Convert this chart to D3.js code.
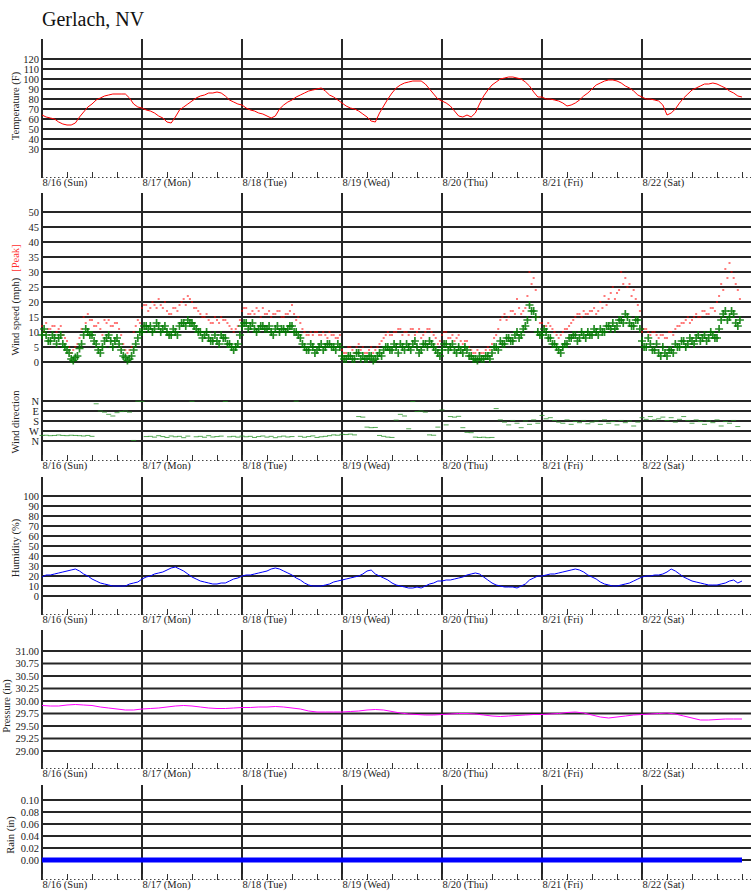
<!DOCTYPE html>
<html>
<head>
<meta charset="utf-8">
<script src="https://cdn.jsdelivr.net/npm/d3@7"></script>
<style>
  body { margin: 0; background: #fff; }
  svg, svg text { font-family: "Liberation Serif", "Times New Roman", "DejaVu Serif", serif; }
</style>
</head>
<body>
<script>
// hourly readings, 8/16 00:00 onward
var tempValues = [
  64,62,61,60,57,55,54,54,56,62,67,72,75,79,81,83,84,85,85,85,85,81,75,72,
  71,69,68,66,63,61,57,56,62,69,72,75,78,81,83,84,86,86,87,86,83,79,77,75,
  74,71,69,68,66,65,63,61,63,70,74,77,79,82,84,86,88,89,90,91,88,84,82,79,
  76,73,71,70,68,65,62,58,57,66,73,80,86,91,94,96,97,98,98,98,95,90,85,80,
  78,76,73,68,63,62,64,62,66,75,83,89,94,97,100,101,102,102,101,100,97,93,87,82,
  82,80,80,79,78,76,73,74,76,79,83,86,90,94,96,98,99,99,98,96,93,91,88,84,
  82,80,80,79,78,74,64,66,70,76,81,85,89,91,93,95,95,96,95,93,91,88,86,83,
  82
];

// wind speed, reading on the hour
var windAvg = [
  9,9,7,8,8,6,4,1,1.5,4.5,9,10,9,6,3,7,9,5,8,4,1.5,1,4,8,
  10,12,12,11,12,11,10,9,10,12,13,14,13,11,10,9,8,7,7,9,8,6,4,6,
  12,13,12,11,11,12,11,10,11,10,11,11,12,10,8,5,4,5,4,6,5,6,5,6,
  2,1,2,1,3,2,1,2,1,3,4,5,4,5,6,4,5,6,5,4,6,7,5,3,
  4,6,5,4,5,3,4,2,1,2,1,2,3,5,7,6,8,7,10,9,12,19,17,10,
  9,10,8,6,4,5,6,8,9,8,9,10,9,10,11,10,12,13,12,14,16,13,12,14,
  7,5,6,4,3,5,2,4,6,5,7,6,7,8,7,9,8,9,8,14,17,15,16,12
];
// wind speed, reading on the half hour
var windAvgB = [
  11,7,9,6,9,5,3,0.5,2,6,11,9,7,4,5,8,7,7,6,2,0.5,2,6,10,
  12,11,10,13,10,12,9,11,9,13,12,13,12,10,8,10,7,9,6,8,6,5,5,9,
  13,11,13,10,12,11,12,9,12,11,10,12,10,9,6,4,6,3,5,4,6,5,4,5,
  1,2,1,3,1,1,2,0.5,2,2,5,4,6,3,5,6,4,7,3,6,5,6,4,2,
  6,4,6,3,4,5,2,1,0.5,1,2,1,5,4,6,8,7,9,8,11,14,17,15,9,
  11,8,6,5,3,6,8,9,7,10,8,9,11,9,10,12,11,11,14,13,15,12,14,11,
  5,8,4,6,2,3,4,3,5,7,5,8,6,9,8,7,10,8,11,16,14,17,13,14
];

var windPeak = [
  12,13,11,12,11,9,7,3,5,8,15,16,14,12,11,14,14,12,13,9,4,4,10,14,
  18,19,18,19,21,18,17,16,18,19,21,22,20,18,16,15,14,13,14,15,14,12,10,12,
  17,18,16,16,17,18,16,15,16,17,15,16,19,14,13,10,9,9,10,9,9,10,9,8,
  4,3,5,3,6,5,3,5,4,6,8,10,9,10,11,10,9,11,10,8,10,11,9,6,
  9,10,8,7,9,6,7,4,3,3,3,5,6,9,14,16,15,17,21,16,18,30,28,15,
  13,12,12,10,8,10,11,13,15,16,17,16,17,16,20,22,21,25,23,30,28,26,24,19,
  10,11,9,10,8,9,8,10,11,12,13,15,14,16,15,17,16,18,20,26,31,33,28,24
];
var windPeakB = [
  10,11,12,10,12,8,5,4,6,11,13,14,12,13,9,13,12,13,11,6,3,5,12,13,
  19,17,20,18,19,20,16,18,17,20,19,21,18,17,15,16,13,15,13,14,13,11,11,14,
  18,16,17,18,15,16,17,16,17,15,16,17,16,15,11,9,10,10,9,10,8,9,8,9,
  3,5,4,5,4,3,4,3,5,7,9,9,10,11,9,10,11,9,11,9,11,10,8,7,
  10,8,9,8,7,7,5,3,4,3,4,4,8,11,15,14,17,16,18,17,22,26,24,13,
  12,13,11,9,9,11,12,14,16,15,16,17,18,17,18,19,23,21,24,26,25,22,21,17,
  11,10,10,9,9,8,10,9,12,13,14,13,15,15,17,16,18,17,22,24,28,30,26,21
];

var windDir = [
  310,308,312,310,306,310,312,308,310,312,315,310,318,25,90,100,120,135,105,95,90,100,355,2,
  5,320,318,325,312,320,328,315,322,318,330,316,3,322,318,326,312,324,320,316,4,322,318,325,
  316,322,318,328,320,315,325,318,330,322,316,324,320,2,318,326,320,314,328,322,318,312,305,308,
  300,302,298,305,140,145,235,240,238,310,318,325,328,172,120,135,250,5,95,90,100,305,308,235,
  80,215,140,145,138,240,282,285,325,328,326,330,328,68,170,190,215,175,200,240,180,210,170,200,
  130,160,150,175,190,200,170,210,185,195,175,205,190,180,210,170,200,185,215,175,195,180,225,190,
  150,165,140,170,160,145,175,150,190,165,140,175,200,170,185,210,180,195,170,225,185,200,175,230
];

var humidityValues = [
  19,21,21,22,23,24,25,26,27,25,22,20,17,15,13,12,11,10,10,10,10,12,13,14,
  17,19,20,22,23,24,26,28,29,27,25,22,19,17,15,14,13,12,12,13,13,15,17,18,
  20,21,21,22,23,24,25,27,28,27,25,23,21,18,16,13,11,10,10,10,11,12,14,15,
  16,17,18,19,20,22,25,26,22,20,18,16,13,11,10,9,8,8,9,8,10,12,13,15,
  15,16,16,17,18,19,21,22,23,22,19,16,13,11,10,9,9,9,8,10,12,16,18,20,
  20,21,22,22,23,24,25,26,27,26,24,21,19,17,14,12,11,10,10,11,12,13,15,17,
  19,20,20,21,21,22,24,27,25,22,19,17,15,14,13,12,11,11,11,12,13,15,16,13,
  15
];

// every 2 hours
var pressureValues = [
  29.91,29.90,29.90,29.92,29.93,29.92,29.91,29.88,29.86,29.84,29.82,29.82,
  29.84,29.85,29.86,29.88,29.90,29.91,29.90,29.88,29.86,29.85,29.85,29.86,
  29.87,29.87,29.88,29.88,29.89,29.88,29.86,29.84,29.80,29.78,29.78,29.78,
  29.78,29.79,29.80,29.82,29.83,29.82,29.79,29.76,29.74,29.73,29.72,29.72,
  29.73,29.74,29.75,29.75,29.74,29.72,29.70,29.69,29.70,29.71,29.72,29.73,
  29.73,29.74,29.75,29.77,29.78,29.76,29.72,29.68,29.66,29.68,29.70,29.72,
  29.73,29.74,29.75,29.76,29.74,29.70,29.66,29.62,29.62,29.63,29.64,29.64,
  29.64
];

// daily
var rainValues = [0,0,0,0,0,0,0,0];

var tempTicks = [30,40,50,60,70,80,90,100,110,120];
var windTicks = [0,5,10,15,20,25,30,35,40,45,50];
var dirTicks = [0,90,180,270,360];
var dirNames = ["N","E","S","W","N"];
var humTicks = [0,10,20,30,40,50,60,70,80,90,100];
var presTicks = [29,29.25,29.5,29.75,30,30.25,30.5,30.75,31];
var rainTicks = [0,0.02,0.04,0.06,0.08,0.1];

var W = 751, H = 895, left = 42;
var serif = "'Liberation Serif', 'Times New Roman', 'DejaVu Serif', serif";
var start = new Date(2015, 7, 16);
var days = d3.range(7).map(function(d){ return d3.timeDay.offset(start, d); });
var at = function(i, step, off){ return d3.timeMinute.offset(start, i*step*60 + (off || 0)); };

var x = d3.scaleTime().domain([start, d3.timeDay.offset(start, 7)]).range([left, left+700]);

var svg = d3.select("body").append("svg").attr("width", W).attr("height", H)
  .attr("font-family", serif);

svg.append("text").attr("x", 42).attr("y", 26).attr("font-size", 20).attr("fill", "#111").text("Gerlach, NV");

function panel(top, axisY, gridSets){
  var g = svg.append("g");
  gridSets.forEach(function(s){
    g.selectAll(null).data(s.ticks).enter().append("line")
      .attr("x1", left).attr("x2", W)
      .attr("y1", function(d){ return s.y(d); }).attr("y2", function(d){ return s.y(d); })
      .attr("stroke", "#262626").attr("stroke-width", 2);
    var ax = g.append("g").attr("transform", "translate(" + left + ",0)")
      .call(d3.axisLeft(s.y).tickValues(s.ticks).tickSize(0).tickPadding(3).tickFormat(s.fmt));
    ax.select(".domain").remove();
    ax.attr("font-family", serif).attr("font-size", 10.5);
    ax.selectAll("text").attr("fill", "#222");
  });
  g.selectAll(null).data(days).enter().append("line")
    .attr("x1", function(d){ return x(d); }).attr("x2", function(d){ return x(d); })
    .attr("y1", top).attr("y2", axisY)
    .attr("stroke", "#262626").attr("stroke-width", 2);
  // dotted time axis with 6-hour ticks
  g.append("line").attr("x1", left).attr("x2", W).attr("y1", axisY - 0.5).attr("y2", axisY - 0.5)
    .attr("stroke", "#444").attr("stroke-dasharray", "1.5,2.5");
  var tx = g.append("g").attr("transform", "translate(0," + axisY + ")")
    .call(d3.axisBottom(x).ticks(d3.timeHour.every(6)).tickSize(-6).tickSizeOuter(0).tickFormat(""));
  tx.select(".domain").remove();
  tx.selectAll("line").attr("stroke", "#333");
  var lx = g.append("g").attr("transform", "translate(0," + axisY + ")")
    .call(d3.axisBottom(x).tickValues(days).tickSize(0).tickPadding(1).tickFormat(d3.timeFormat("%-m/%-d (%a)")));
  lx.select(".domain").remove();
  lx.attr("font-family", serif).attr("font-size", 10.5);
  lx.selectAll("text").attr("text-anchor", "start").attr("fill", "#222");
  return g;
}

function yLabel(cx, cy, parts){
  var t = svg.append("text").attr("transform", "translate(" + cx + "," + cy + ") rotate(-90)")
    .attr("text-anchor", "middle").attr("font-size", 10.5).attr("fill", "#222");
  parts.forEach(function(p, i){
    t.append("tspan").attr("fill", p.c || "#222").attr("dx", i ? 6 : 0).text(p.t);
  });
}

// temperature
var yT = d3.scaleLinear().domain([0, 140]).range([179, 39]);
panel(39, 178, [{y: yT, ticks: tempTicks, fmt: d3.format("d")}]);
yLabel(19, 106, [{t: "Temperature (F)"}]);
svg.append("path").datum(tempValues)
  .attr("fill", "none").attr("stroke", "#ff0000").attr("stroke-width", 1)
  .attr("d", d3.line().x(function(d, i){ return x(at(i, 1)); }).y(function(d){ return yT(d); }));

// wind speed + direction share one frame
var yW = d3.scaleLinear().domain([0, 50]).range([362, 212]);
var yD = d3.scaleLinear().domain([0, 360]).range([401, 441]);
panel(193, 461, [
  {y: yW, ticks: windTicks, fmt: d3.format("d")},
  {y: yD, ticks: dirTicks, fmt: function(d, i){ return dirNames[i]; }}
]);
yLabel(19, 300, [{t: "Wind speed (mph)"}, {t: "[Peak]", c: "#ff3030"}]);
yLabel(19, 422, [{t: "Wind direction"}]);

function peaks(values, off){
  svg.append("g").selectAll("rect").data(values).enter().append("rect")
    .attr("x", function(d, i){ return x(at(i, 1, off)) - 1; })
    .attr("y", function(d){ return yW(d) - 0.75; })
    .attr("width", 2).attr("height", 1.5).attr("fill", "#ff0000").attr("opacity", 0.7);
}
peaks(windPeak, 0);
peaks(windPeakB, 30);

function pluses(values, off){
  svg.append("g").selectAll("path").data(values).enter().append("path")
    .attr("transform", function(d, i){ return "translate(" + x(at(i, 1, off)) + "," + yW(d) + ")"; })
    .attr("d", "M-4,0H4M0,-4V4")
    .attr("stroke", "#007a00").attr("stroke-width", 1.7).attr("opacity", 0.85);
}
pluses(windAvg, 0);
pluses(windAvgB, 30);

svg.append("g").selectAll("rect").data(windDir).enter().append("rect")
  .attr("x", function(d, i){ return x(at(i, 1)) - 2.5; })
  .attr("y", function(d){ return yD(d) - 0.5; })
  .attr("width", 5).attr("height", 1).attr("fill", "#1f8f1f").attr("opacity", 0.75);

// humidity
var yH = d3.scaleLinear().domain([0, 100]).range([596, 496]);
panel(477, 615, [{y: yH, ticks: humTicks, fmt: d3.format("d")}]);
yLabel(19, 548, [{t: "Humidity (%)"}]);
svg.append("path").datum(humidityValues)
  .attr("fill", "none").attr("stroke", "#0000ff").attr("stroke-width", 1)
  .attr("d", d3.line().x(function(d, i){ return x(at(i, 1)); }).y(function(d){ return yH(d); }));

// pressure
var yP = d3.scaleLinear().domain([29, 31]).range([751, 651]);
panel(630, 769, [{y: yP, ticks: presTicks, fmt: d3.format(".2f")}]);
yLabel(10, 706, [{t: "Pressure (in)"}]);
svg.append("path").datum(pressureValues)
  .attr("fill", "none").attr("stroke", "#ff00ff").attr("stroke-width", 1)
  .attr("d", d3.line().x(function(d, i){ return x(at(i, 2)); }).y(function(d){ return yP(d); }));

// rain
var yR = d3.scaleLinear().domain([0, 0.1]).range([860, 800]);
panel(785, 880, [{y: yR, ticks: rainTicks, fmt: d3.format(".2f")}]);
yLabel(14, 835, [{t: "Rain (in)"}]);
svg.append("path").datum(rainValues)
  .attr("fill", "none").attr("stroke", "#0000ff").attr("stroke-width", 5)
  .attr("d", d3.line().x(function(d, i){ return x(at(i, 24)); }).y(function(d){ return yR(d); }));
</script>
</body>
</html>
